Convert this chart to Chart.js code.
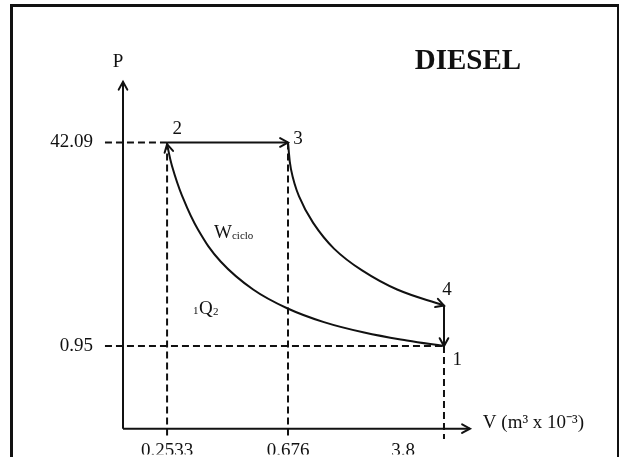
<!DOCTYPE html>
<html>
<head>
<meta charset="utf-8">
<script src="https://cdn.jsdelivr.net/npm/chart.js@4"></script>
<style>
  html, body { margin: 0; padding: 0; background: #fff; overflow: hidden; }
  #wrap { position: relative; width: 620px; height: 457px; }
  #frame { position: absolute; left: 10px; top: 4px; width: 604px; height: 470px;
           border: 3px solid #111; border-right-width: 2px; pointer-events: none; }
</style>
</head>
<body>
<div id="wrap">
  <canvas id="graphic" width="620" height="457"></canvas>
  <div id="frame"></div>
</div>
<script>
// Diesel cycle P-V diagram (schematic, not to scale)
const volumeLabels = ["0.2533", "0.676", "3.8"];
const volumeTickPos = [1.27, 4.755, 8.07];
const pressureLabels = ["42.09", "0.95"];
const pressureTickPos = [8.25, 2.38];

// state points in diagram units: [V, P]
const state1 = [9.25, 2.38];
const state2 = [1.27, 8.25];
const state3 = [4.755, 8.25];
const state4 = [9.25, 3.55];

// compression 1 -> 2
const compression = [
  [9.25, 2.38], [8.18, 2.54], [6.95, 2.77], [5.79, 3.07], [4.73, 3.47],
  [3.75, 4.01], [2.82, 4.81], [2.16, 5.74], [1.70, 6.72], [1.41, 7.58], [1.27, 8.2]
];
// expansion 3 -> 4
const expansion = [
  [4.755, 8.25], [4.84, 7.48], [5.07, 6.70], [5.48, 5.93], [6.08, 5.19],
  [6.89, 4.56], [7.90, 4.01], [9.25, 3.55]
];

const axisEndX = 10, axisEndY = 10;
const guideLeft = -0.52, guideBottom = -0.27;

const serif = "'Liberation Serif', 'Times New Roman', serif";
const ink = "#111";

const pts = arr => arr.map(p => ({ x: p[0], y: p[1] }));

function solid(data, arrow) {
  return { data: pts(data), showLine: true, borderColor: ink, borderWidth: 2,
           pointRadius: 0, tension: 0.4, fill: false,
           arrow: arrow, clip: false };
}
function dashed(data) {
  return { data: pts(data), showLine: true, borderColor: ink, borderWidth: 2,
           borderDash: [7, 4], pointRadius: 0, fill: false, clip: false };
}

const labels = [
  { text: "P", x: -0.14, y: 10.57, size: 19 },
  { text: "DIESEL", x: 9.94, y: 10.57, size: 29, bold: true },
  { text: "V (m³ x 10⁻³)", x: 10.37, y: 0.17, size: 19, align: "left" },
  { text: "2", x: 1.56, y: 8.65, size: 19 },
  { text: "3", x: 5.04, y: 8.34, size: 19 },
  { text: "4", x: 9.34, y: 4.01, size: 19 },
  { text: "1", x: 9.63, y: 1.98, size: 19 },
  { text: "W", x: 2.62, y: 5.50, size: 19, align: "left", base: "alphabetic" },
  { text: "ciclo", x: 3.14, y: 5.47, size: 11, align: "left", base: "alphabetic" },
  { text: "1", x: 2.02, y: 3.30, size: 11, align: "left", base: "alphabetic" },
  { text: "Q", x: 2.19, y: 3.30, size: 19, align: "left", base: "alphabetic" },
  { text: "2", x: 2.59, y: 3.27, size: 11, align: "left", base: "alphabetic" }
];

const arrowPlugin = {
  id: "arrows",
  afterDatasetsDraw(chart) {
    const ctx = chart.ctx;
    chart.data.datasets.forEach((ds, i) => {
      if (!ds.arrow) return;
      const meta = chart.getDatasetMeta(i);
      const n = meta.data.length;
      const tip = meta.data[n - 1];
      let fx = meta.data[n - 2].x, fy = meta.data[n - 2].y;
      if (tip.cp1x !== undefined && (Math.abs(tip.cp1x - tip.x) + Math.abs(tip.cp1y - tip.y)) > 0.5) {
        fx = tip.cp1x; fy = tip.cp1y;
      }
      const ang = Math.atan2(tip.y - fy, tip.x - fx);
      const len = 9, spread = 0.5;
      ctx.save();
      ctx.strokeStyle = ink;
      ctx.lineWidth = 2;
      ctx.lineCap = "round";
      ctx.beginPath();
      ctx.moveTo(tip.x - len * Math.cos(ang - spread), tip.y - len * Math.sin(ang - spread));
      ctx.lineTo(tip.x, tip.y);
      ctx.lineTo(tip.x - len * Math.cos(ang + spread), tip.y - len * Math.sin(ang + spread));
      ctx.stroke();
      ctx.restore();
    });
  }
};

const textPlugin = {
  id: "texts",
  afterDraw(chart) {
    const ctx = chart.ctx;
    const sx = chart.scales.x, sy = chart.scales.y;
    ctx.save();
    ctx.fillStyle = ink;
    labels.forEach(l => {
      ctx.font = (l.bold ? "bold " : "") + l.size + "px " + serif;
      ctx.textAlign = l.align || "center";
      ctx.textBaseline = l.base || "middle";
      ctx.fillText(l.text, sx.getPixelForValue(l.x), sy.getPixelForValue(l.y));
    });
    ctx.restore();
  }
};

const ctx = document.getElementById("graphic").getContext("2d");
new Chart(ctx, {
  type: "scatter",
  data: {
    datasets: [
      solid([[0, 0], [axisEndX, 0]], true),
      solid([[0, 0], [0, axisEndY]], true),
      solid([state2, state3], true),
      solid(expansion, true),
      solid([state4, state1], true),
      solid(compression, true),
      dashed([[guideLeft, state2[1]], state2]),
      dashed([[guideLeft, state1[1]], state1]),
      dashed([state2, [state2[0], guideBottom]]),
      dashed([state3, [state3[0], guideBottom]]),
      dashed([state1, [state1[0], guideBottom - 0.03]])
    ]
  },
  options: {
    responsive: false,
    animation: false,
    layout: { padding: { top: 40, right: 20, left: 0, bottom: 0 } },
    plugins: { legend: { display: false }, tooltip: { enabled: false } },
    scales: {
      x: {
        type: "linear", min: -0.663, max: 13.746,
        grid: { display: false, drawTicks: false }, border: { display: false },
        afterFit(scale) { scale.height = 16; },
        afterBuildTicks(scale) { scale.ticks = volumeTickPos.map(v => ({ value: v })); },
        ticks: {
          padding: 1, color: ink, maxRotation: 0, autoSkip: false,
          font: { family: serif, size: 19 },
          callback: (value, index) => volumeLabels[index]
        }
      },
      y: {
        type: "linear", min: -0.287, max: 11.203,
        grid: { display: false, drawTicks: false }, border: { display: false },
        afterFit(scale) { scale.width = 100; },
        afterBuildTicks(scale) { scale.ticks = pressureTickPos.map(v => ({ value: v })); },
        ticks: {
          padding: 7, color: ink, autoSkip: false,
          font: { family: serif, size: 19 },
          callback: (value, index) => pressureLabels[index]
        }
      }
    }
  },
  plugins: [arrowPlugin, textPlugin]
});
</script>
</body>
</html>
